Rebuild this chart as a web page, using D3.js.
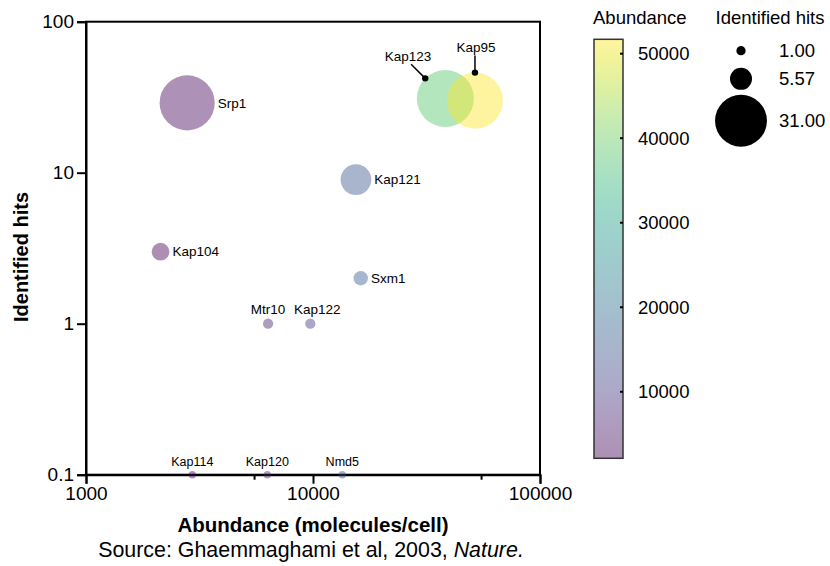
<!DOCTYPE html>
<html>
<head>
<meta charset="utf-8">
<script src="https://cdn.jsdelivr.net/npm/d3@7"></script>
<style>
  body { margin: 0; background: #fff; }
  svg { font-family: "Liberation Sans", Arial, sans-serif; }
</style>
</head>
<body>
<svg id="chart" width="830" height="566"></svg>
<script>
// data
const proteins  = ["Srp1", "Kap104", "Mtr10", "Kap122", "Kap121", "Sxm1", "Kap123", "Kap95", "Kap114", "Kap120", "Nmd5"];
const abundance = [2790, 2130, 6340, 9730, 15460, 16230, 38300, 51700, 2940, 6290, 13460];
const hits      = [29, 3, 1, 1, 9, 2, 31, 30, 0, 0, 0];
const labelSide = ["right", "right", "top", "top", "right", "right", "callout", "callout", "top", "top", "top"];
const labelShift = [0, 0, 0, 7, 0, 0, 0, 0, 0, 0, 0];

const xTicks = [1000, 10000, 100000];
const xMinorTicks = [5500, 55000];
const yTicks = [0.1, 1, 10, 100];
const yTickLabels = ["0.1", "1", "10", "100"];
const colorTicks = [10000, 20000, 30000, 40000, 50000];
const sizeLegendValues = [1, 5.57, 31];
const sizeLegendLabels = ["1.00", "5.57", "31.00"];

const margin = { top: 21.7, left: 86, right: 290, bottom: 91.3 };
const W = 830, H = 566;
const innerW = W - margin.left - margin.right;
const innerH = H - margin.top - margin.bottom;

const svg = d3.select("#chart");
const g = svg.append("g").attr("transform", `translate(${margin.left},${margin.top})`);

const x = d3.scaleLog().domain([1000, 100000]).range([0, innerW]);
const y = d3.scaleLog().domain([0.1, 100]).range([innerH, 0]).clamp(true);
const r = d3.scaleSqrt().domain([0, 31]).range([0, 28.5]);
const minR = 3.7;
const color = d3.scaleSequential(d3.interpolateViridis).domain(d3.extent(abundance));
const fillOpacity = 0.44;

// frame
g.append("rect")
  .attr("width", innerW).attr("height", innerH)
  .attr("fill", "none").attr("stroke", "#000").attr("stroke-width", 2);

// axes
const yAxis = g.append("g")
  .call(d3.axisLeft(y).tickValues(yTicks).tickSize(9).tickPadding(3)
    .tickFormat((d, i) => yTickLabels[i]));
const xAxis = g.append("g")
  .attr("transform", `translate(0,${innerH})`)
  .call(d3.axisBottom(x).tickValues(xTicks).tickSize(9).tickPadding(3)
    .tickFormat(d3.format("d")));
g.append("g")
  .attr("transform", `translate(0,${innerH})`)
  .call(d3.axisBottom(x).tickValues(xMinorTicks).tickSize(5).tickFormat(""))
  .select(".domain").remove();

g.selectAll(".tick line").attr("stroke-width", 2);
g.selectAll(".domain").attr("stroke-width", 2);
[xAxis, yAxis].forEach(a => a.selectAll("text")
  .attr("font-size", 19).attr("fill", "#000")
  .style("font-family", "Liberation Sans, Arial, sans-serif"));

// axis titles
svg.append("text")
  .attr("x", margin.left + innerW / 2).attr("y", 532)
  .attr("text-anchor", "middle").attr("font-size", 20.5).attr("font-weight", "bold")
  .text("Abundance (molecules/cell)");

const src = svg.append("text")
  .attr("x", margin.left + innerW / 2 - 2).attr("y", 557)
  .attr("text-anchor", "middle").attr("font-size", 21.4);
src.append("tspan").text("Source: Ghaemmaghami et al, 2003, ");
src.append("tspan").attr("font-style", "italic").text("Nature.");

svg.append("text")
  .attr("transform", "translate(28,257) rotate(-90)")
  .attr("text-anchor", "middle").attr("font-size", 20).attr("font-weight", "bold")
  .text("Identified hits");

// bubbles
const pts = proteins.map((p, i) => ({
  name: p,
  ab: abundance[i],
  hits: hits[i],
  side: labelSide[i],
  shift: labelShift[i],
  cx: x(abundance[i]),
  cy: y(Math.max(hits[i], 0.1)),
  rad: Math.max(r(hits[i]), minR)
}));

g.selectAll("circle.bubble")
  .data(pts)
  .enter().append("circle")
  .attr("class", "bubble")
  .attr("cx", d => d.cx)
  .attr("cy", d => d.cy)
  .attr("r", d => d.rad)
  .attr("fill", d => color(d.ab))
  .attr("fill-opacity", fillOpacity);

// labels
pts.forEach(d => {
  if (d.side === "right") {
    g.append("text")
      .attr("x", d.cx + d.rad + 3).attr("y", d.cy)
      .attr("dy", "0.35em").attr("font-size", 13.5)
      .text(d.name);
  } else if (d.side === "top") {
    g.append("text")
      .attr("x", d.cx + d.shift).attr("y", d.cy - d.rad - 4.5)
      .attr("text-anchor", "middle")
      .attr("font-size", d.hits > 0 ? 13.5 : 12.5)
      .text(d.name);
  } else {
    // callout with leader line and dot on the edge
    const ang = d.name === "Kap95" ? -90 : -135;
    const len = d.name === "Kap95" ? 17 : 20;
    const a = ang * Math.PI / 180;
    const px = d.cx + d.rad * Math.cos(a), py = d.cy + d.rad * Math.sin(a);
    const ex = px + len * Math.cos(a), ey = py + len * Math.sin(a);
    g.append("line")
      .attr("x1", px).attr("y1", py).attr("x2", ex).attr("y2", ey)
      .attr("stroke", "#000").attr("stroke-width", 1.5);
    g.append("circle").attr("cx", px).attr("cy", py).attr("r", 3.2).attr("fill", "#000");
    g.append("text")
      .attr("x", ex - (d.name === "Kap95" ? -1 : 3)).attr("y", ey - 3.5)
      .attr("text-anchor", "middle").attr("font-size", 13.5)
      .text(d.name);
  }
});

// colour bar
const cb = { x: 594, y: 39.3, w: 29, h: 419 };
const cbScale = d3.scaleLinear().domain(color.domain()).range([cb.y + cb.h, cb.y]);
const defs = svg.append("defs");
const grad = defs.append("linearGradient").attr("id", "cbgrad")
  .attr("x1", "0").attr("y1", "1").attr("x2", "0").attr("y2", "0");
d3.range(0, 1.0001, 0.05).forEach(t => {
  grad.append("stop").attr("offset", t)
    .attr("stop-color", d3.interpolateViridis(t))
    .attr("stop-opacity", fillOpacity);
});
svg.append("rect")
  .attr("x", cb.x).attr("y", cb.y).attr("width", cb.w).attr("height", cb.h)
  .attr("fill", "url(#cbgrad)").attr("stroke", "#333").attr("stroke-width", 1.5);
svg.selectAll("line.cbtick")
  .data(colorTicks).enter().append("line")
  .attr("class", "cbtick")
  .attr("x1", cb.x + cb.w - 3).attr("x2", cb.x + cb.w)
  .attr("y1", d => cbScale(d)).attr("y2", d => cbScale(d))
  .attr("stroke", "#000").attr("stroke-width", 2);
svg.selectAll("text.cblabel")
  .data(colorTicks).enter().append("text")
  .attr("class", "cblabel")
  .attr("x", cb.x + cb.w + 15).attr("y", d => cbScale(d))
  .attr("dy", "0.35em").attr("font-size", 18.5)
  .text(d => d);
svg.append("text")
  .attr("x", 593).attr("y", 24).attr("font-size", 18.5)
  .text("Abundance");

// size legend
svg.append("text")
  .attr("x", 715.5).attr("y", 24).attr("font-size", 18.5)
  .text("Identified hits");
const legendScale = 0.91;
const legendGaps = [12.5, 5];
let ly = 50.7;
sizeLegendValues.forEach((v, i) => {
  const rr = r(v) * legendScale;
  if (i > 0) ly += r(sizeLegendValues[i - 1]) * legendScale + legendGaps[i - 1] + rr;
  svg.append("circle").attr("cx", 741).attr("cy", ly).attr("r", rr).attr("fill", "#000");
  svg.append("text")
    .attr("x", 779).attr("y", ly).attr("dy", "0.35em").attr("font-size", 18.5)
    .text(sizeLegendLabels[i]);
});
</script>
</body>
</html>
